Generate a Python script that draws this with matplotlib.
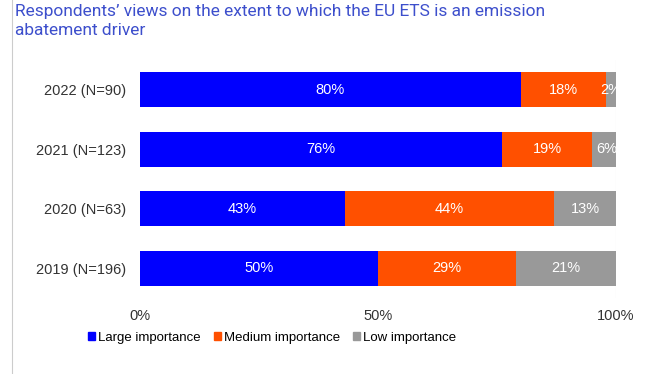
import matplotlib.pyplot as plt
import numpy as np
from matplotlib.lines import Line2D

plt.rcParams['font.family'] = ['Liberation Sans', 'DejaVu Sans']

# данные
years = ['2022 (N=90)', '2021 (N=123)', '2020 (N=63)', '2019 (N=196)']
large = [80, 76, 43, 50]
medium = [18, 19, 44, 29]
low = [2, 6, 13, 21]

c_large = '#0000ff'
c_medium = '#ff5000'
c_low = '#999999'

fig = plt.figure(figsize=(6.52, 3.74), dpi=100)
ax = fig.add_axes([140 / 652, 1 - 298 / 374, 476 / 652, 238 / 374])

y = np.arange(len(years))
h = 0.59
ax.axvline(100, color='#dddddd', lw=0.8, zorder=0)
ax.barh(y, large, height=h, color=c_large, label='Large importance')
ax.barh(y, medium, left=large, height=h, color=c_medium, label='Medium importance')
left_low = [a + b for a, b in zip(large, medium)]
ax.barh(y, low, left=left_low, height=h, color=c_low, label='Low importance')

for i in range(len(years)):
    ax.text(large[i] / 2, y[i], f'{large[i]}%', color='white', ha='center', va='center', fontsize=10.5)
    ax.text(large[i] + medium[i] / 2, y[i], f'{medium[i]}%', color='white', ha='center', va='center', fontsize=10.5)
    ax.text(left_low[i] + low[i] / 2, y[i], f'{low[i]}%', color='white', ha='center', va='center', fontsize=10.5)

ax.set_xlim(0, 100)
ax.set_ylim(3.5, -0.5)
ax.set_yticks(y)
ax.set_yticklabels(years, fontsize=10.5, color='#333333')
ax.set_xticks([0, 50, 100])
ax.set_xticklabels(['0%', '50%', '100%'], fontsize=10.5, color='#333333')
ax.tick_params(length=0, pad=10)
ax.tick_params(axis='x', pad=8)
for s in ax.spines.values():
    s.set_visible(False)

fig.text(15 / 652, 1 - 4 / 374, "Respondents’ views on the extent to which the EU ETS is an emission\nabatement driver",
         color='#3d4fcc', fontsize=12.5, family='Roboto', va='top', ha='left', linespacing=1.3)
fig.add_artist(Line2D([12 / 652, 12 / 652], [0.0, 1.0], color='#cccccc', lw=0.8))

handles = [plt.Rectangle((0, 0), 1, 1, color=c) for c in [c_large, c_medium, c_low]]
fig.legend(handles, ['Large importance', 'Medium importance', 'Low importance'],
           loc='center', bbox_to_anchor=(272 / 652, 1 - 338 / 374), ncol=3, frameon=False,
           fontsize=9.5, handlelength=0.55, handleheight=0.55, handletextpad=0.2, columnspacing=1.0)

fig.savefig('out.png', dpi=100)
